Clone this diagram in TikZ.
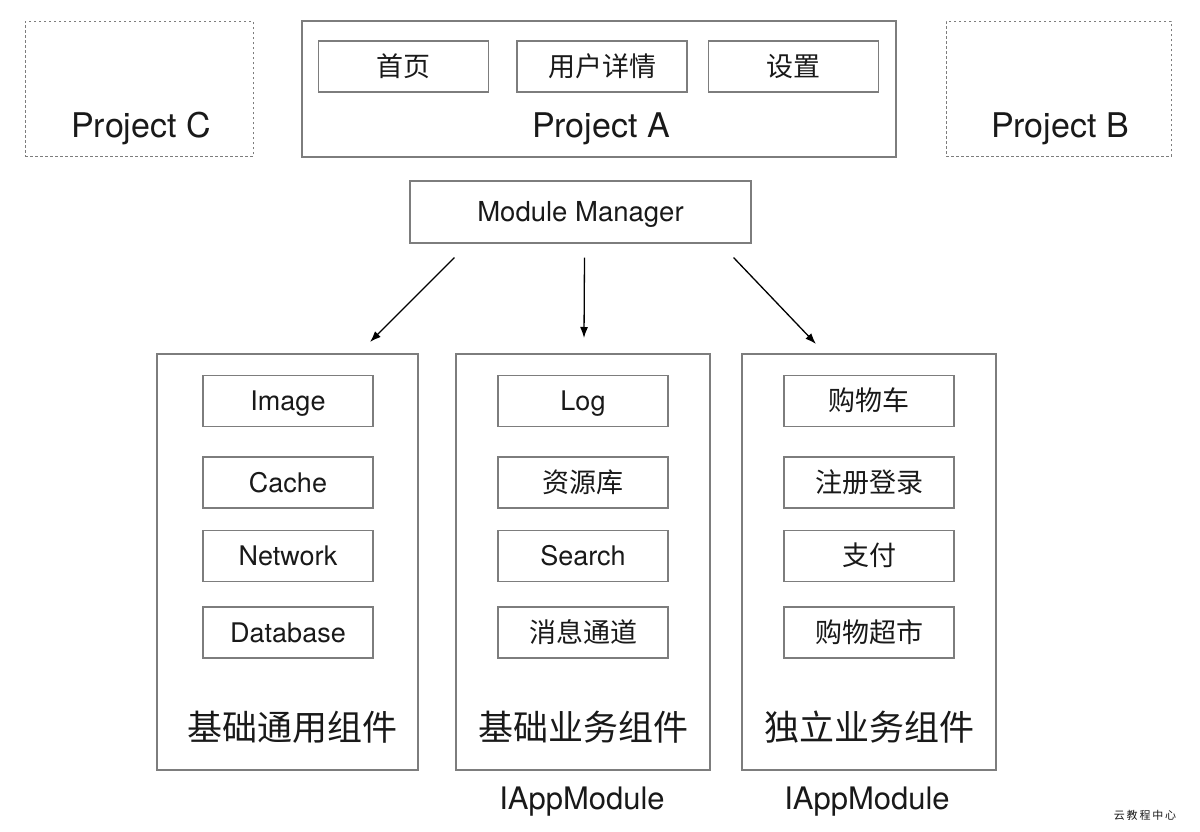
\documentclass[tikz,border=0pt]{standalone}
\usepackage{fontspec}
\setmainfont{TeX Gyre Heros}
\newfontfamily\cjk{Noto Sans CJK SC}
\usetikzlibrary{arrows.meta, positioning, calc}
\usepackage{xcolor}
\definecolor{framegray}{RGB}{125,125,125}
\definecolor{inkblack}{RGB}{25,25,25}

\tikzset{
  frame/.style={draw=framegray, line width=1.2pt, inner sep=0pt},
  dashframe/.style={frame, line width=1pt, dash pattern=on 2.5pt off 2.5pt},
  item/.style={frame, minimum width=170pt, minimum height=51pt,
    text height=19.5pt, text depth=0pt,
    text=inkblack, font=\fontsize{27}{32}\selectfont},
  column/.style={frame, minimum width=254pt, minimum height=416pt},
  title/.style={text=inkblack, font=\fontsize{35}{40}\selectfont\cjk},
  big/.style={text=inkblack, font=\fontsize{34}{40}\selectfont, anchor=base},
  iface/.style={text=inkblack, text height=22.3pt, text depth=0pt,
    font=\fontsize{31}{36}\selectfont},
  arr/.style={-{Latex[length=11pt, width=8pt]}, line width=1.3pt, black}
}

\begin{document}
\begin{tikzpicture}[x=1pt, y=-1pt]
  \useasboundingbox (0,0) rectangle (1200,832);
  % projects on top
  \node[dashframe, minimum width=228pt, minimum height=135pt] (pc) at (139,89) {};
  \node[big] (pctext) at (141,138) {Project C};
  \node[frame, minimum width=594pt, minimum height=136pt] (pa) at (599,89) {};
  \node[item] (home) at (403.5,66.5) {\cjk 首页};
  \node[item] (user) at (602,66.5) {\cjk 用户详情};
  \node[item] (setting) at (793.5,66.5) {\cjk 设置};
  \node[big] (patext) at (601,138) {Project A};
  \node[dashframe, minimum width=225pt, minimum height=135pt] (pb) at (1058.5,89) {};
  \node[big] (pbtext) at (1060,138) {Project B};
  % manager
  \node[frame, minimum width=341pt, minimum height=62pt, text=inkblack,
    text height=19.8pt, text depth=0pt,
    font=\fontsize{27.5}{32}\selectfont] (mm) at (580.5,212) {Module Manager};
  % three component groups
  \node[column, minimum width=261pt] (common) at (287.5,562) {};
  \node[column] (basic) at (583,562) {};
  \node[column] (biz) at (869,562) {};
  % common
  \node[item] (image) at (288,401) {Image};
  \node[item] (cache) at (288,482.5) {Cache};
  \node[item] (network) at (288,556) {Network};
  \node[item] (database) at (288,632.5) {Database};
  \node[title] (commontitle) at (292,727) {基础通用组件};
  % basic business
  \node[item] (log) at (583,401) {Log};
  \node[item] (res) at (583,482.5) {\cjk 资源库};
  \node[item] (search) at (583,556) {Search};
  \node[item] (msg) at (583,632.5) {\cjk 消息通道};
  \node[title] (basictitle) at (583,727) {基础业务组件};
  % standalone business
  \node[item] (cart) at (869,401) {\cjk 购物车};
  \node[item] (login) at (869,482.5) {\cjk 注册登录};
  \node[item] (pay) at (869,556) {\cjk 支付};
  \node[item] (market) at (869,632.5) {\cjk 购物超市};
  \node[title] (biztitle) at (869,727) {独立业务组件};
  \node[iface] (basicif) at (582,798) {IAppModule};
  \node[iface] (bizif) at (867,798) {IAppModule};
  % arrows
  \coordinate (s1) at ($(mm.south west)+(45,14)$);
  \coordinate (e1) at (370,342);
  \coordinate (s2) at ($(mm.south)+(4,14)$);
  \coordinate (e2) at (584,338);
  \coordinate (s3) at ($(mm.south east)+(-18,14)$);
  \coordinate (e3) at (816,344);
  \draw[arr] (s1) -- (e1);
  \draw[arr] (s2) -- (e2);
  \draw[arr] (s3) -- (e3);
  % watermark
  \node[text=inkblack, font=\fontsize{11}{13}\selectfont\cjk] (mark) at (1145,815) {云\,教\,程\,中\,心};
\end{tikzpicture}
\end{document}
